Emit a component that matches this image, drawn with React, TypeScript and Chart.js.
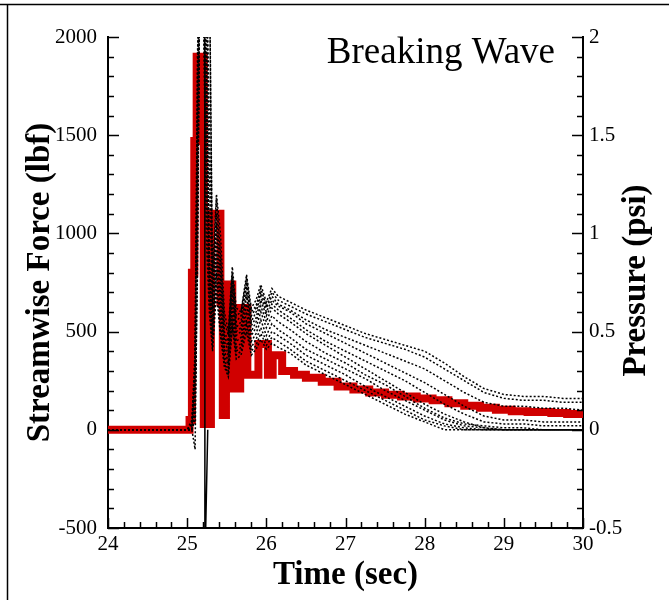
import React, { useEffect, useRef } from "react";
import { Chart, registerables } from "chart.js";

Chart.register(...registerables);

// ---------- data ----------
const titleText = "Breaking Wave";
const xTitle = "Time (sec)";
const yLeftTitle = "Streamwise Force (lbf)";
const yRightTitle = "Pressure (psi)";

const timeTicks = [24, 25, 26, 27, 28, 29, 30];
const timeTickLabels = ["24", "25", "26", "27", "28", "29", "30"];
const forceTicks = [-500, 0, 500, 1000, 1500, 2000];
const forceTickLabels = ["-500", "0", "500", "1000", "1500", "2000"];
const pressureTicks = [-0.5, 0, 0.5, 1, 1.5, 2];
const pressureTickLabels = ["-0.5", "0", "0.5", "1", "1.5", "2"];
const timeMinorStep = 0.2;
const forceMinorStep = 100;
const pressureMinorStep = 0.1;

// streamwise force (red, left axis)
const forceTime = [24, 25.03, 25.06, 25.09, 25.12, 25.21, 25.3, 25.42, 25.45, 25.49, 25.57, 25.67, 25.76, 25.9, 26.02, 26.08, 26.2, 26.35, 26.5, 26.7, 26.9, 27.1, 27.3, 27.5, 27.7, 27.9, 28.1, 28.3, 28.5, 28.7, 28.9, 29.1, 29.3, 29.6, 29.8, 30];
const forceValue = [0, 50, 800, 1470, 1900, 30, 1100, 650, 75, 740, 210, 620, 280, 437, 280, 380, 300, 280, 265, 245, 220, 205, 190, 178, 170, 160, 150, 135, 122, 112, 102, 95, 90, 85, 80, 75];

// pressure gauges (black dotted, right axis)
const pressureTime = [24, 25.0, 25.06, 25.1, 25.13, 25.16, 25.2, 25.24, 25.28, 25.32, 25.37, 25.42, 25.47, 25.52, 25.57, 25.62, 25.68, 25.75, 25.81, 25.87, 25.93, 26.0, 26.07, 26.15, 26.3, 26.5, 26.75, 27.0, 27.25, 27.5, 27.75, 28.0, 28.25, 28.5, 28.75, 29.0, 29.25, 29.5, 29.75, 30];
const gauge1 = [0, 0, 0.02, 0.3, 1.8, 2.4, 2.4, 2.4, 2.4, 0.8, 1.2, 1.0, 0.6, 0.5, 0.83, 0.62, 0.6, 0.79, 0.62, 0.66, 0.74, 0.65, 0.72, 0.68, 0.65, 0.61, 0.57, 0.53, 0.49, 0.46, 0.43, 0.4, 0.34, 0.27, 0.21, 0.18, 0.17, 0.17, 0.16, 0.16];
const gauge2 = [0, 0, 0, 0.2, 1.5, 2.4, 2.4, 2.4, 2.4, 0.7, 1.18, 0.9, 0.55, 0.48, 0.8, 0.58, 0.6, 0.77, 0.6, 0.63, 0.72, 0.63, 0.7, 0.66, 0.63, 0.59, 0.55, 0.51, 0.47, 0.44, 0.41, 0.37, 0.31, 0.25, 0.19, 0.16, 0.15, 0.15, 0.14, 0.14];
const gauge3 = [0, 0, 0.05, 0.4, 1.9, 2.4, 2.4, 2.4, 1.6, 0.65, 1.1, 0.85, 0.5, 0.45, 0.78, 0.55, 0.58, 0.75, 0.58, 0.62, 0.7, 0.62, 0.68, 0.64, 0.61, 0.56, 0.51, 0.47, 0.43, 0.39, 0.35, 0.31, 0.25, 0.19, 0.14, 0.12, 0.12, 0.11, 0.11, 0.1];
const gauge4 = [0, 0, 0, 0.15, 1.2, 2.4, 2.4, 2.4, 1.3, 0.62, 1.05, 0.8, 0.48, 0.42, 0.75, 0.52, 0.55, 0.73, 0.55, 0.6, 0.68, 0.6, 0.66, 0.63, 0.6, 0.54, 0.49, 0.44, 0.39, 0.34, 0.29, 0.24, 0.18, 0.12, 0.07, 0.05, 0.05, 0.04, 0.04, 0.04];
const gauge5 = [0, 0, 0, 0.25, 1.4, 2.4, 2.4, 2.2, 0.9, 0.6, 1.0, 0.75, 0.45, 0.4, 0.72, 0.5, 0.52, 0.7, 0.53, 0.57, 0.66, 0.58, 0.64, 0.61, 0.57, 0.51, 0.45, 0.4, 0.35, 0.3, 0.25, 0.19, 0.13, 0.08, 0.04, 0.03, 0.03, 0.02, 0.02, 0.02];
const gauge6 = [0, 0, 0, 0.1, 1.0, 2.4, 2.4, 2.0, 0.85, 0.55, 0.95, 0.7, 0.42, 0.38, 0.7, 0.48, 0.5, 0.68, 0.5, 0.55, 0.63, 0.55, 0.62, 0.59, 0.55, 0.49, 0.43, 0.37, 0.31, 0.25, 0.19, 0.13, 0.08, 0.04, 0.01, 0, 0, 0, 0, 0];
const gauge7 = [0, 0, 0.03, 0.35, 1.6, 2.4, 2.4, 1.8, 0.8, 0.5, 0.9, 0.65, 0.4, 0.35, 0.66, 0.45, 0.47, 0.64, 0.48, 0.52, 0.6, 0.52, 0.58, 0.55, 0.51, 0.45, 0.39, 0.34, 0.28, 0.23, 0.17, 0.11, 0.06, 0.03, 0.02, 0.01, 0.01, 0, 0, 0];
const gauge8 = [0, 0, 0, 0.2, 1.3, 2.4, 2.4, 1.6, 0.75, 0.48, 0.85, 0.6, 0.38, 0.33, 0.62, 0.42, 0.44, 0.6, 0.45, 0.49, 0.56, 0.48, 0.54, 0.51, 0.47, 0.41, 0.36, 0.31, 0.26, 0.2, 0.15, 0.1, 0.05, 0.02, 0.01, 0, 0, 0, 0, 0];
const gauge9 = [0, 0, 0, -0.1, 0.9, 2.4, 2.4, 1.4, 0.7, 0.45, 0.8, 0.55, 0.36, 0.3, 0.58, 0.4, 0.42, 0.56, 0.42, 0.46, 0.52, 0.45, 0.5, 0.48, 0.44, 0.38, 0.33, 0.28, 0.22, 0.17, 0.12, 0.07, 0.03, 0.01, 0, 0, 0, 0, 0, 0];
const gauge10 = [0, 0, 0, 0.1, 1.1, 2.4, 2.4, 1.2, 0.65, 0.42, 0.75, 0.5, 0.34, 0.28, 0.55, 0.38, 0.4, 0.53, 0.4, 0.43, 0.49, 0.43, 0.47, 0.45, 0.41, 0.35, 0.3, 0.25, 0.2, 0.15, 0.1, 0.05, 0.02, 0, 0, 0, 0, 0, 0, 0];
const gauge11 = [0, 0, 0, 0.05, 0.8, 2.4, 2.4, 1.0, 0.6, 0.4, 0.7, 0.48, 0.32, 0.27, 0.52, 0.36, 0.38, 0.5, 0.38, 0.41, 0.46, 0.41, 0.44, 0.42, 0.39, 0.33, 0.28, 0.23, 0.18, 0.13, 0.08, 0.04, 0, 0, 0, 0, 0, 0, 0, 0];
const gauges = [gauge1, gauge2, gauge3, gauge4, gauge5, gauge6, gauge7, gauge8, gauge9, gauge10, gauge11];

// gauge with the negative spike (solid)
const dipTime = [25.19, 25.222, 25.224, 25.26];
const dipValue = [2.4, 2.4, -0.7, 0.0];

// ---------- component ----------
const SERIF = '"Liberation Serif", "DejaVu Serif", serif';

const labelFrom = (ticks: number[], labels: string[]) => (v: any) => {
  const idx = ticks.findIndex((t) => Math.abs(t - Number(v)) < 1e-9);
  return idx >= 0 ? labels[idx] : "";
};

const decorPlugin = {
  id: "decor",
  afterDatasetsDraw(chart: any) {
    const { ctx, chartArea, scales } = chart;
    const { left, right, bottom } = chartArea;
    ctx.save();
    ctx.strokeStyle = "#000";
    ctx.lineWidth = 1.5;
    const line = (x1: number, y1: number, x2: number, y2: number) => {
      ctx.beginPath();
      ctx.moveTo(x1, y1);
      ctx.lineTo(x2, y2);
      ctx.stroke();
    };
    const nx = Math.round((timeTicks[timeTicks.length - 1] - timeTicks[0]) / timeMinorStep);
    for (let i = 0; i <= nx; i++) {
      const v = timeTicks[0] + i * timeMinorStep;
      const px = Math.round(scales.x.getPixelForValue(v)) + 0.5;
      line(px, bottom, px, bottom - (i % 5 === 0 ? 10 : 6));
    }
    const ny = Math.round((forceTicks[forceTicks.length - 1] - forceTicks[0]) / forceMinorStep);
    for (let i = 0; i <= ny; i++) {
      const v = forceTicks[0] + i * forceMinorStep;
      const py = Math.round(scales.y.getPixelForValue(v)) + 0.5;
      line(left, py, left + (i % 5 === 0 ? 11 : 6), py);
    }
    const nr = Math.round((pressureTicks[pressureTicks.length - 1] - pressureTicks[0]) / pressureMinorStep);
    for (let i = 0; i <= nr; i++) {
      const v = pressureTicks[0] + i * pressureMinorStep;
      const py = Math.round(scales.y2.getPixelForValue(v)) + 0.5;
      line(right, py, right - (i % 5 === 0 ? 11 : 6), py);
    }
    ctx.restore();
  },
  afterDraw(chart: any) {
    const { ctx, chartArea, width, height } = chart;
    const { left, right, top, bottom } = chartArea;
    ctx.save();
    ctx.fillStyle = "#000";
    ctx.strokeStyle = "#000";
    ctx.lineWidth = 1.5;
    ctx.beginPath();
    ctx.moveTo(0, 4.5);
    ctx.lineTo(width, 4.5);
    ctx.moveTo(7.5, 4.5);
    ctx.lineTo(7.5, height);
    ctx.stroke();
    ctx.font = `37px ${SERIF}`;
    ctx.textAlign = "right";
    ctx.textBaseline = "middle";
    ctx.fillText(titleText, 555, 53);
    ctx.font = `bold 33px ${SERIF}`;
    ctx.textAlign = "center";
    ctx.fillText(xTitle, (left + right) / 2, 575);
    ctx.save();
    ctx.translate(40, (top + bottom) / 2);
    ctx.rotate(-Math.PI / 2);
    ctx.fillText(yLeftTitle, 0, 0);
    ctx.restore();
    ctx.save();
    ctx.translate(636, (top + bottom) / 2 - 2);
    ctx.rotate(-Math.PI / 2);
    ctx.fillText(yRightTitle, 0, 0);
    ctx.restore();
    ctx.restore();
  },
};

export default function App() {
  const ref = useRef<HTMLCanvasElement | null>(null);

  useEffect(() => {
    document.body.style.margin = "0";
    const canvas = ref.current;
    if (!canvas) return;

    const gaugeSets = gauges.map((g, k) => ({
      label: `Gauge ${k + 1}`,
      data: pressureTime.map((t, i) => ({ x: t, y: g[i] })),
      yAxisID: "y2",
      borderColor: "#000",
      borderWidth: 1.5,
      borderDash: [2, 2],
      pointRadius: 0,
      fill: false,
      tension: 0,
      clip: 0,
      order: 1,
    }));

    const chart = new Chart(canvas, {
      type: "line",
      data: {
        datasets: [
          ...gaugeSets,
          {
            label: "Dip gauge",
            data: dipTime.map((t, i) => ({ x: t, y: dipValue[i] })),
            yAxisID: "y2",
            borderColor: "#000",
            borderWidth: 1.5,
            pointRadius: 0,
            fill: false,
            clip: 0,
            order: 1,
          },
          {
            label: "Streamwise Force",
            data: forceTime.map((t, i) => ({ x: t, y: forceValue[i] })),
            yAxisID: "y",
            borderColor: "#d00000",
            borderWidth: 8,
            stepped: true,
            pointRadius: 0,
            fill: false,
            clip: 0,
            order: 2,
          },
        ] as any,
      },
      options: {
        responsive: false,
        animation: false,
        events: [],
        layout: { padding: { top: 37, left: 0, right: 0, bottom: 0 } },
        plugins: { legend: { display: false }, tooltip: { enabled: false }, title: { display: false } },
        scales: {
          x: {
            type: "linear",
            position: "bottom",
            min: timeTicks[0],
            max: timeTicks[timeTicks.length - 1],
            afterBuildTicks: (s: any) => {
              s.ticks = timeTicks.map((v) => ({ value: v }));
            },
            afterFit: (s: any) => {
              s.height = 72;
            },
            grid: { display: false, drawTicks: false },
            border: { display: true, color: "#000", width: 2 },
            ticks: {
              color: "#000",
              font: { family: SERIF, size: 21 },
              padding: 4,
              maxRotation: 0,
              autoSkip: false,
              callback: labelFrom(timeTicks, timeTickLabels),
            },
          },
          y: {
            type: "linear",
            position: "left",
            min: forceTicks[0],
            max: forceTicks[forceTicks.length - 1],
            afterBuildTicks: (s: any) => {
              s.ticks = forceTicks.map((v) => ({ value: v }));
            },
            afterFit: (s: any) => {
              s.width = 108;
            },
            grid: { display: false, drawTicks: false },
            border: { display: true, color: "#000", width: 2 },
            ticks: {
              color: "#000",
              font: { family: SERIF, size: 21 },
              padding: 11,
              autoSkip: false,
              callback: labelFrom(forceTicks, forceTickLabels),
            },
          },
          y2: {
            type: "linear",
            position: "right",
            min: pressureTicks[0],
            max: pressureTicks[pressureTicks.length - 1],
            afterBuildTicks: (s: any) => {
              s.ticks = pressureTicks.map((v) => ({ value: v }));
            },
            afterFit: (s: any) => {
              s.width = 86;
            },
            grid: { display: false, drawTicks: false },
            border: { display: true, color: "#000", width: 2 },
            ticks: {
              color: "#000",
              font: { family: SERIF, size: 21 },
              padding: 6,
              autoSkip: false,
              callback: labelFrom(pressureTicks, pressureTickLabels),
            },
          },
        },
      } as any,
      plugins: [decorPlugin],
    });

    return () => chart.destroy();
  }, []);

  return (
    <div style={{ width: 669, height: 600, background: "#fff" }}>
      <canvas ref={ref} width={669} height={600} style={{ display: "block" }} />
    </div>
  );
}
